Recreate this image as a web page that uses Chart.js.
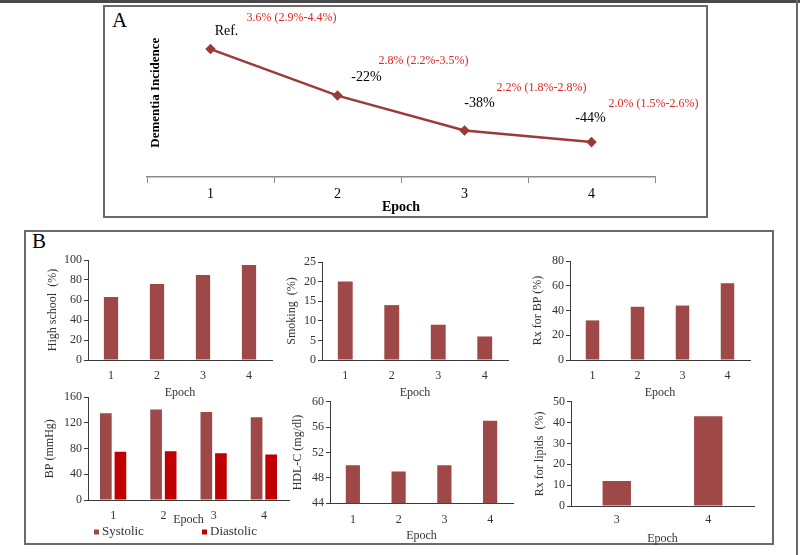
<!DOCTYPE html>
<html>
<head>
<meta charset="utf-8">
<script src="https://cdn.jsdelivr.net/npm/chart.js@4"></script>
<style>
  body { margin: 0; background: #fff; }
  #page { position: relative; width: 800px; height: 555px; overflow: hidden; font-family: 'Liberation Serif', 'Times New Roman', serif; }
  #page canvas { position: absolute; }
  .box { position: absolute; border: 2px solid #6a6a6a; box-sizing: border-box; }
  .tag { position: absolute; font-size: 21px; line-height: 1; color: #000; }
</style>
</head>
<body>
<div id="page">
  <div style="position:absolute;left:0;top:0;width:800px;height:3px;background:#4a4a4a"></div>
  <div style="position:absolute;left:796px;top:0;width:2px;height:555px;background:#6a6a6a"></div>
  <div class="box" style="left:103px;top:5px;width:605px;height:213px"></div>
  <div class="box" style="left:24px;top:230px;width:750px;height:315px"></div>
  <div class="tag" style="left:112px;top:10px">A</div>
  <div class="tag" style="left:32px;top:231px">B</div>
  <canvas id="incChart"></canvas>
  <canvas id="hsChart"></canvas>
  <canvas id="smokeChart"></canvas>
  <canvas id="rxbpChart"></canvas>
  <canvas id="bpChart"></canvas>
  <canvas id="hdlChart"></canvas>
  <canvas id="lipidChart"></canvas>
</div>
<script>
// values
const epochs = ['1', '2', '3', '4'];
const incidence = [3.6, 2.8, 2.2, 2.0];
const incidenceCI = ['3.6% (2.9%-4.4%)', '2.8% (2.2%-3.5%)', '2.2% (1.8%-2.8%)', '2.0% (1.5%-2.6%)'];
const changeVsRef = ['Ref.', '-22%', '-38%', '-44%'];
const highSchool = [63, 76, 85, 95];
const smoking = [20, 14, 9, 6];
const rxForBP = [32, 43, 44, 62];
const systolic = [135, 141, 137, 129];
const diastolic = [75, 76, 73, 71];
const hdlC = [50, 49, 50, 57];
const lipidEpochs = ['3', '4'];
const rxForLipids = [12, 43];

const SERIF = "'Liberation Serif', 'Times New Roman', serif";
const barRed = '#9e4848';
const diaRed = '#c00000';
const lineRed = '#9c3a38';
const axisCol = '#3a3a3a';
const textCol = '#333333';

Chart.defaults.font.family = SERIF;
Chart.defaults.animation = false;
Chart.defaults.plugins.legend.display = false;
Chart.defaults.plugins.tooltip.enabled = false;

function place(id, x, y, w, h) {
  const c = document.getElementById(id);
  c.style.left = x + 'px';
  c.style.top = y + 'px';
  c.width = w; c.height = h;
  c.style.width = w + 'px'; c.style.height = h + 'px';
  return c;
}

// labels next to the points of panel A
const pointLabels = {
  id: 'pointLabels',
  afterDatasetsDraw(chart, args, opts) {
    const ctx = chart.ctx;
    const pts = chart.getDatasetMeta(0).data;
    ctx.save();
    ctx.textAlign = 'center';
    ctx.textBaseline = 'middle';
    pts.forEach((pt, i) => {
      ctx.font = '14px ' + SERIF;
      ctx.fillStyle = '#000';
      ctx.fillText(changeVsRef[i], pt.x + opts.change[i][0], pt.y + opts.change[i][1]);
      ctx.font = '12px ' + SERIF;
      ctx.fillStyle = '#e02424';
      ctx.fillText(incidenceCI[i], pt.x + opts.ci[i][0], pt.y + opts.ci[i][1]);
    });
    ctx.restore();
  }
};

// Panel A: line chart
(function () {
  const left = 105, top = 0, w = 595, h = 217;
  const canvas = place('incChart', left, top, w, h);
  new Chart(canvas, {
    type: 'line',
    data: {
      labels: epochs,
      datasets: [{
        data: incidence,
        borderColor: lineRed,
        backgroundColor: lineRed,
        borderWidth: 2.5,
        pointStyle: 'rectRot',
        pointRadius: 3.5,
        tension: 0
      }]
    },
    options: {
      responsive: false,
      layout: { padding: { top: 8.4, right: 45, left: 0, bottom: 0 } },
      scales: {
        x: {
          offset: true,
          grid: { offset: true, drawOnChartArea: false, tickLength: 6, color: '#8a8a8a' },
          border: { color: '#8a8a8a', width: 1.5 },
          ticks: { color: '#000', font: { size: 14 }, padding: 3 },
          title: { display: true, text: 'Epoch', color: '#000', font: { size: 14, weight: 'bold' }, padding: { top: 0, bottom: 1 } },
          afterFit: s => { s.height = 40; }
        },
        y: {
          min: 1.4, max: 4.3,
          ticks: { display: false },
          grid: { display: false },
          border: { display: false },
          title: { display: true, text: 'Dementia Incidence', color: '#000', font: { size: 13, weight: 'bold' }, padding: { top: 42.7, bottom: 0 } },
          afterFit: s => { s.width = 42; }
        }
      },
      plugins: {
        pointLabels: {
          change: [[16, -18], [29, -18], [15, -27], [-1, -24]],
          ci: [[81, -31], [86, -35], [77, -43], [62, -38]]
        }
      }
    },
    plugins: [pointLabels]
  });
})();

// Panel B: small bar charts
function smallBar(id, p) {
  const left = Math.round(p.l - p.yW);
  const top = Math.round(p.t - 10);
  const w = Math.round(p.r + 8 - left);
  const h = Math.round(p.b + p.xH - top);
  const canvas = place(id, left, top, w, h);
  return new Chart(canvas, {
    type: 'bar',
    data: { labels: p.labels, datasets: p.datasets },
    options: {
      responsive: false,
      layout: { padding: { top: p.t - top, right: w - (p.r - left), left: 0, bottom: h - (p.b + p.xH - top) } },
      datasets: { bar: { categoryPercentage: p.catPct, barPercentage: p.barPct, borderWidth: 0 } },
      scales: {
        x: {
          grid: { display: false, drawTicks: false },
          border: { color: axisCol },
          ticks: { color: textCol, font: { size: 12 }, padding: p.xTickPad },
          title: { display: true, text: 'Epoch', color: textCol, font: { size: 12 }, padding: { top: 0, bottom: p.xTitlePad } },
          afterFit: s => { s.height = p.xH; }
        },
        y: {
          min: p.min, max: p.max,
          ticks: { stepSize: p.step, color: textCol, font: { size: 12 }, padding: 2 },
          grid: { drawOnChartArea: false, tickLength: 4, color: axisCol },
          border: { color: axisCol },
          title: { display: true, text: p.yTitle, color: textCol, font: { size: 12 }, padding: { top: p.yTitleX - left - 7.2, bottom: 0 } },
          afterFit: s => { s.width = p.yW; }
        }
      }
    },
    plugins: p.plugins || []
  });
}

const bpLegend = {
  id: 'bpLegend',
  afterDraw(chart) {
    const ctx = chart.ctx;
    const area = chart.chartArea;
    const xs = [area.left + 6, area.left + 114];
    const y = area.bottom + 32;
    ctx.save();
    ctx.font = '13px ' + SERIF;
    ctx.textBaseline = 'middle';
    ctx.textAlign = 'left';
    chart.data.datasets.forEach((ds, i) => {
      ctx.fillStyle = ds.backgroundColor;
      ctx.fillRect(xs[i], y - 2.5, 5, 5);
      ctx.fillStyle = textCol;
      ctx.fillText(ds.label, xs[i] + 8, y);
    });
    ctx.restore();
  }
};

smallBar('hsChart', {
  l: 88, r: 272, t: 260, b: 360, yW: 50, xH: 42, yTitleX: 53, xTitlePad: 1.5, xTickPad: 9,
  min: 0, max: 100, step: 20, yTitle: 'High school  (%)', catPct: 0.31, barPct: 1,
  labels: epochs, datasets: [{ data: highSchool, backgroundColor: barRed }]
});
smallBar('smokeChart', {
  l: 322, r: 508, t: 262, b: 360, yW: 40, xH: 42, yTitleX: 292, xTitlePad: 1.5, xTickPad: 9,
  min: 0, max: 25, step: 5, yTitle: 'Smoking  (%)', catPct: 0.32, barPct: 1,
  labels: epochs, datasets: [{ data: smoking, backgroundColor: barRed }]
});
smallBar('rxbpChart', {
  l: 570, r: 750, t: 261, b: 360, yW: 45, xH: 42, yTitleX: 538, xTitlePad: 1.5, xTickPad: 9,
  min: 0, max: 80, step: 20, yTitle: 'Rx for BP (%)', catPct: 0.3, barPct: 1,
  labels: epochs, datasets: [{ data: rxForBP, backgroundColor: barRed }]
});
smallBar('bpChart', {
  l: 88, r: 289, t: 397.3, b: 500, yW: 50, xH: 40, yTitleX: 50, xTitlePad: 12.8, xTickPad: 9,
  min: 0, max: 160, step: 40, yTitle: 'BP (mmHg)', catPct: 0.58, barPct: 0.8,
  labels: epochs,
  datasets: [
    { label: 'Systolic', data: systolic, backgroundColor: barRed },
    { label: 'Diastolic', data: diastolic, backgroundColor: diaRed }
  ],
  plugins: [bpLegend]
});
smallBar('hdlChart', {
  l: 330, r: 513, t: 401.7, b: 503.3, yW: 42, xH: 42, yTitleX: 297.5, xTitlePad: 2.1, xTickPad: 9,
  min: 44, max: 60, step: 4, yTitle: 'HDL-C (mg/dl)', catPct: 0.31, barPct: 1,
  labels: epochs, datasets: [{ data: hdlC, backgroundColor: barRed }]
});
smallBar('lipidChart', {
  l: 571, r: 754, t: 401.7, b: 506, yW: 45, xH: 40, yTitleX: 540, xTitlePad: 0, xTickPad: 7,
  min: 0, max: 50, step: 10, yTitle: 'Rx for lipids  (%)', catPct: 0.31, barPct: 1,
  labels: lipidEpochs, datasets: [{ data: rxForLipids, backgroundColor: barRed }]
});
</script>
</body>
</html>
